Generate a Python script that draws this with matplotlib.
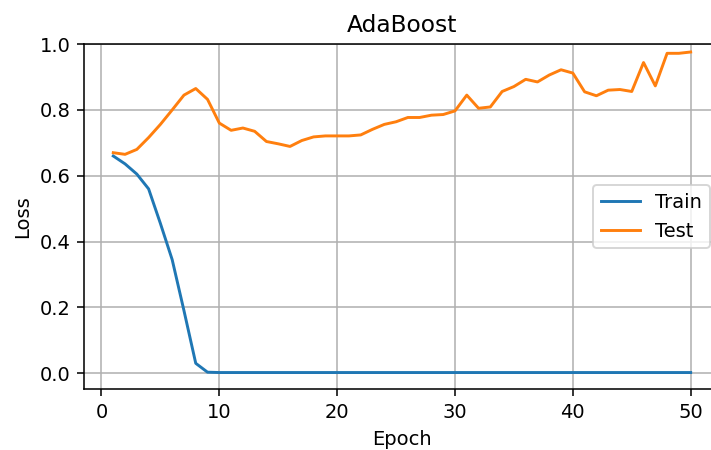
import matplotlib.pyplot as plt
import numpy as np

# Loss per epoch
epochs = np.arange(1, 51)
train_loss = [
    0.660, 0.636, 0.605, 0.560, 0.455, 0.345, 0.190, 0.030, 0.003, 0.002,
    0.002, 0.002, 0.002, 0.002, 0.002, 0.002, 0.002, 0.002, 0.002, 0.002,
    0.002, 0.002, 0.002, 0.002, 0.002, 0.002, 0.002, 0.002, 0.002, 0.002,
    0.002, 0.002, 0.002, 0.002, 0.002, 0.002, 0.002, 0.002, 0.002, 0.002,
    0.002, 0.002, 0.002, 0.002, 0.002, 0.002, 0.002, 0.002, 0.002, 0.002,
]
test_loss = [
    0.670, 0.665, 0.680, 0.716, 0.756, 0.800, 0.845, 0.865, 0.832, 0.760,
    0.738, 0.745, 0.735, 0.704, 0.697, 0.689, 0.707, 0.718, 0.721, 0.721,
    0.721, 0.724, 0.741, 0.756, 0.764, 0.777, 0.777, 0.784, 0.786, 0.797,
    0.845, 0.805, 0.809, 0.856, 0.871, 0.893, 0.885, 0.906, 0.922, 0.912,
    0.855, 0.843, 0.860, 0.862, 0.856, 0.944, 0.873, 0.972, 0.972, 0.976,
]

fig = plt.figure(figsize=(711 / 140, 450 / 140), dpi=140)
# the original picture is cropped on the right, so the axes run past the edge
ax = fig.add_axes([0.1187, 0.135, 0.8933, 0.767])

ax.plot(epochs, train_loss, label="Train")
ax.plot(epochs, test_loss, label="Test")

ax.set_title("AdaBoost")
ax.set_xlabel("Epoch")
ax.set_ylabel("Loss")
ax.set_xlim(-1.45, 52.45)
ax.set_ylim(-0.0488, 1.0)
ax.grid(True)
ax.spines["right"].set_visible(False)
ax.legend(loc="center right")

fig.savefig("out.png", dpi=140)
